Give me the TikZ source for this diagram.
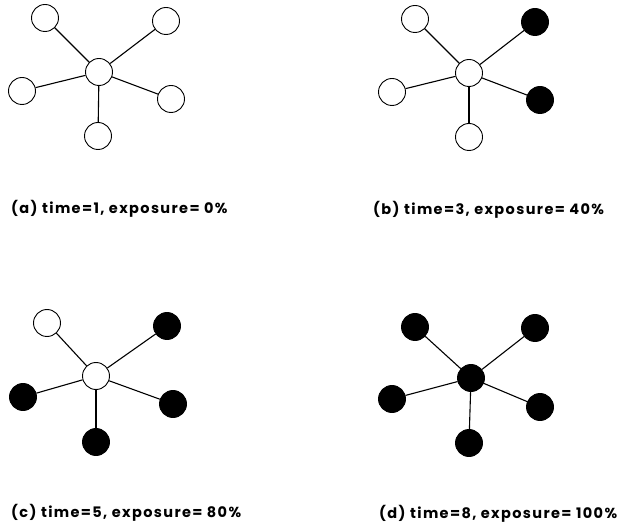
\documentclass[tikz,border=0pt]{standalone}
\usepackage{fontspec}
\setmainfont{Poppins}[BoldFont={* Bold}]
\newfontfamily\capfont{Poppins Bold}[LetterSpace=9.5]
\begin{document}
\begin{tikzpicture}[x=1pt,y=-1pt,
  leaf/.style={circle,draw,line width=0.9pt,minimum size=27pt,inner sep=0pt},
  openleaf/.style={leaf,fill=white},
  fullleaf/.style={leaf,fill=black},
  edge/.style={line width=1.1pt},
  captext/.style={anchor=base west,inner sep=0pt,font=\capfont\fontsize{14.5}{16}\selectfont}]
\useasboundingbox (0,0) rectangle (621,526);
% panel a
\node[openleaf] (ac) at (99,72) {};
\node[openleaf] (a1) at (45,18) {};
\node[openleaf] (a2) at (166,21) {};
\node[openleaf] (a3) at (22,91) {};
\node[openleaf] (a4) at (171,99) {};
\node[openleaf] (a5) at (98,136) {};
\foreach \i in {1,...,5} \draw[edge] (ac) -- (a\i);
\node[captext] (la) at (11,214) {(a) time=1, exposure= 0\%};
% panel b
\node[openleaf] (bc) at (469,73) {};
\node[openleaf] (b1) at (415,19) {};
\node[fullleaf] (b2) at (535,22) {};
\node[openleaf] (b3) at (392,92) {};
\node[fullleaf] (b4) at (540,100) {};
\node[openleaf] (b5) at (469,137) {};
\foreach \i in {1,...,5} \draw[edge] (bc) -- (b\i);
\node[captext] (lb) at (373,215) {(b) time=3, exposure= 40\%};
% panel c
\node[openleaf] (cc) at (96,376) {};
\node[openleaf] (c1) at (47,323) {};
\node[fullleaf] (c2) at (167,326) {};
\node[fullleaf] (c3) at (23,397) {};
\node[fullleaf] (c4) at (173,404) {};
\node[fullleaf] (c5) at (96,442) {};
\foreach \i in {1,...,5} \draw[edge] (cc) -- (c\i);
\node[captext] (lc) at (11,517) {(c) time=5, exposure= 80\%};
% panel d
\node[fullleaf] (dc) at (471,378) {};
\node[fullleaf] (d1) at (415,327) {};
\node[fullleaf] (d2) at (535,328) {};
\node[fullleaf] (d3) at (392,399) {};
\node[fullleaf] (d4) at (540,407) {};
\node[fullleaf] (d5) at (469,443) {};
\foreach \i in {1,...,5} \draw[edge] (dc) -- (d\i);
\node[captext] (ld) at (379,518) {(d) time=8, exposure= 100\%};
\end{tikzpicture}
\end{document}
